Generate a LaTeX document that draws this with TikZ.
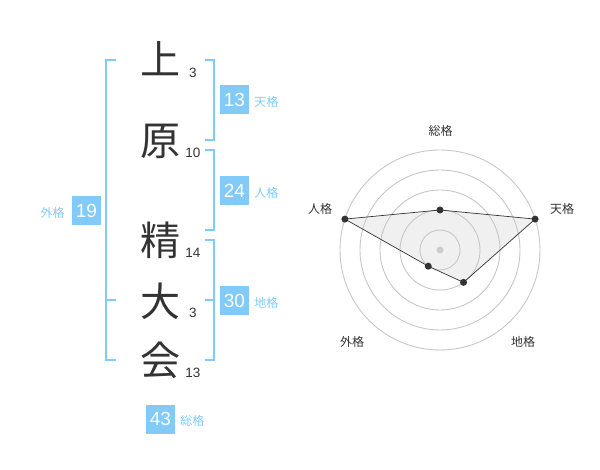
\documentclass[tikz,border=0pt]{standalone}
\usepackage{fontspec}
\setmainfont{Liberation Sans}
\newfontfamily\jp{Noto Sans CJK JP}
\usetikzlibrary{positioning}
\definecolor{kaku}{HTML}{82CBF8}
\definecolor{ink}{HTML}{333333}

\begin{document}
\begin{tikzpicture}[x=1pt,y=-1pt]
\tikzset{Moji/.style =
	{font = \jp\fontsize{40}{40}\selectfont,
		text = ink,
		inner sep = 0pt},
	Kakusu/.style = {font=\fontsize{13.5}{14}\selectfont, text=ink, inner sep=0pt},
	Box/.style = {fill=kaku, text=white, minimum size=29pt, inner sep=0pt,
		font=\fontsize{19}{19}\selectfont},
	Kaku/.style = {font=\jp\fontsize{12}{12}\selectfont, text=kaku, inner sep=0pt},
	Brace/.style = {draw=kaku, line width=2pt},
	Ring/.style = {draw=black!22, line width=0.9pt},
	Dot/.style = {circle, fill=ink, inner sep=0pt, minimum size=7pt},
	Axis/.style = {font=\jp\fontsize{12}{12}\selectfont, text=ink, inner sep=0pt}}
\useasboundingbox (0,0) rectangle (600,470);
% name
\node[Moji] (K1) at (160,59) {上};
\node[Moji] (K2) at (160,141) {原};
\node[Moji] (K3) at (160,240) {精};
\node[Moji] (K4) at (160,301) {大};
\node[Moji] (K5) at (160,360) {会};
\node[Kakusu] (N1) at (193,73) {3};
\node[Kakusu] (N2) at (193,153) {10};
\node[Kakusu] (N3) at (193,253) {14};
\node[Kakusu] (N4) at (193,313) {3};
\node[Kakusu] (N5) at (193,373) {13};
% brackets
\coordinate (gT) at (116,60); \coordinate (gM) at (116,300); \coordinate (gB) at (116,360);
\coordinate (tT) at (205,60); \coordinate (tB) at (205,140);
\coordinate (jT) at (205,150); \coordinate (jB) at (205,230);
\coordinate (cT) at (205,240); \coordinate (cM) at (205,300); \coordinate (cB) at (205,360);
\draw[Brace] (gT) -- ++(-10,0) |- (gB);
\draw[Brace] (gM) -- ++(-10,0);
\draw[Brace] (tT) -- ++(9,0) |- (tB);
\draw[Brace] (jT) -- ++(9,0) |- (jB);
\draw[Brace] (cT) -- ++(9,0) |- (cB);
\draw[Brace] (cM) -- ++(9,0);
% boxes
\node[Box] (B1) at (234.5,100) {13};
\node[Box] (B2) at (234.5,190.5) {24};
\node[Box] (B3) at (234.5,300.5) {30};
\node[Box] (B4) at (86.5,210.5) {19};
\node[Box] (B5) at (160.5,419) {43};
\node[Kaku, anchor=base west] (L1) at ([xshift=5pt]B1.base east) {天格};
\node[Kaku, anchor=base west] (L2) at ([xshift=5pt]B2.base east) {人格};
\node[Kaku, anchor=base west] (L3) at ([xshift=5pt]B3.base east) {地格};
\node[Kaku, anchor=base east] (L4) at ([xshift=-7pt]B4.base west) {外格};
\node[Kaku, anchor=base west] (L5) at ([xshift=5pt]B5.base east) {総格};
% radar
\coordinate (O) at (440,250);
\coordinate (S) at ([shift={(-90:40)}]O);
\coordinate (T) at ([shift={(-18:100)}]O);
\coordinate (C) at ([shift={(54:40)}]O);
\coordinate (G) at ([shift={(126:20)}]O);
\coordinate (J) at ([shift={(198:100)}]O);
\fill[black!6] (S) -- (T) -- (C) -- (G) -- (J) -- cycle;
\foreach \r in {20,40,60,80,100}
	\draw[Ring] (O) circle[radius=\r];
\draw[draw=ink, line width=0.7pt]
	(S) -- (T) -- (C) -- (G) -- (J) -- cycle;
\foreach \p in {S,T,C,G,J}
	\node[Dot] (d\p) at (\p) {};
\node[Dot, fill=black!20] (dO) at (O) {};
\node[Axis] (aS) at (440.5,131) {総格};
\node[Axis] (aT) at (562,208.5) {天格};
\node[Axis] (aC) at (523,342) {地格};
\node[Axis] (aG) at (352,342) {外格};
\node[Axis] (aJ) at (320,208.5) {人格};
\end{tikzpicture}
\end{document}
